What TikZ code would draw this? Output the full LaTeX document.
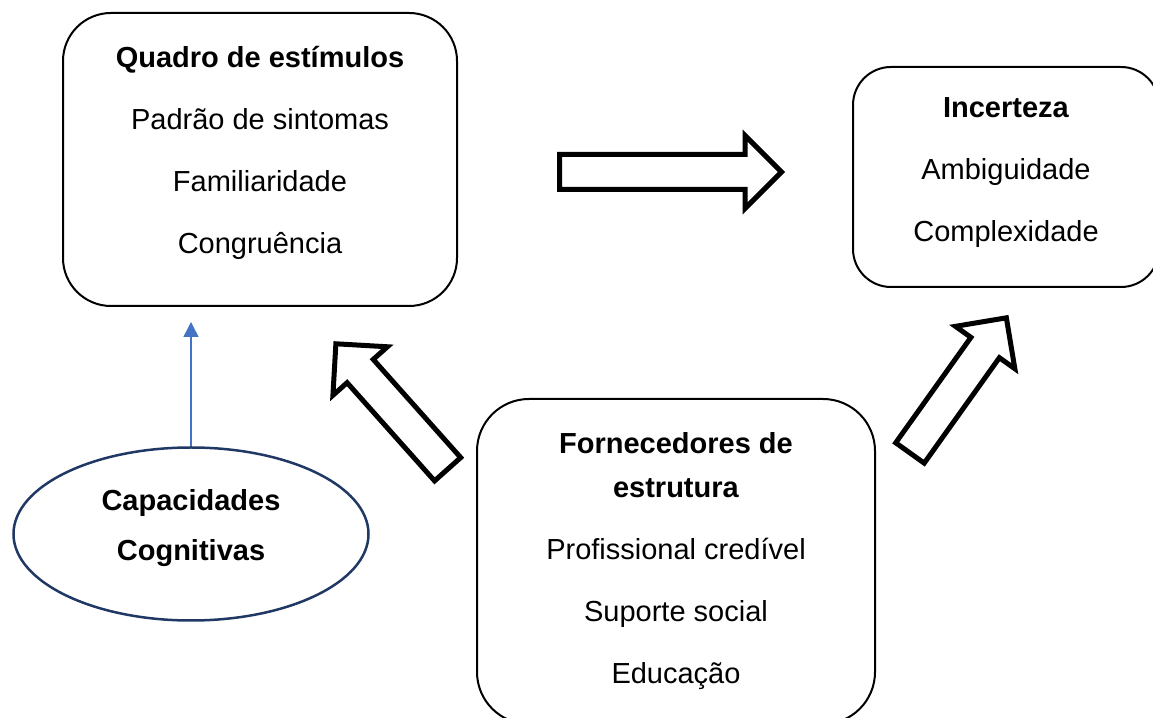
\documentclass[tikz,border=0pt]{standalone}
\usepackage{fontspec}
\setmainfont{Liberation Sans}
\usetikzlibrary{shapes.geometric, shapes.arrows, arrows.meta}
\definecolor{azul}{HTML}{4472C4}
\definecolor{marino}{HTML}{203864}
\newcommand{\relleno}[1]{\rule[-#1]{0pt}{#1}}

\begin{document}
\begin{tikzpicture}[x=1pt, y=1pt,
    caja/.style={draw, line width=2pt, rounded corners=#1, align=center,
        inner sep=0pt, font=\fontsize{29pt}{44pt}\selectfont},
    caja/.default=45pt,
    bloque/.style={single arrow, draw, fill=white, line width=5pt, anchor=tail,
        minimum height=#1, inner xsep=0pt, inner ysep=15pt,
        single arrow head extend=19pt, single arrow tip angle=90},
    flechaazul/.style={draw=azul, line width=1.5pt,
        -{Triangle[width=15pt, length=15pt]}}]
                                \useasboundingbox (0,0) rectangle (1153,717);

                                % cajas
                                \node [caja=48pt, minimum width=394pt, minimum height=293pt] (quadro) at (260,557.5)
                                    {\textbf{Quadro de estímulos}\\[18pt]Padrão de sintomas\\[18pt]Familiaridade\\[18pt]Congruência\relleno{20pt}};
                                \node [caja=38pt, minimum width=306pt, minimum height=220pt] (incerteza) at (1006,540)
                                    {\textbf{Incerteza}\\[18pt]Ambiguidade\\[18pt]Complexidade\relleno{14pt}};
                                \node [caja=52pt, minimum width=398pt, minimum height=325pt] (fornec) at (676,155.5)
                                    {\textbf{Fornecedores de}\\\textbf{estrutura}\\[18pt]Profissional credível\\[18pt]Suporte social\\[18pt]Educação};
                                \node [ellipse, draw=marino, line width=2.5pt, minimum width=355pt, minimum height=173pt,
                                    align=center, font=\fontsize{29pt}{44pt}\selectfont\bfseries] (cap) at (191,183)
                                    {Capacidades\\[6pt]Cognitivas\relleno{18pt}};

                                % flechas
                                \node [bloque=222pt] (f1) at (557,545) {};
                                \node [bloque=168pt, rotate=131.7] (f2) at (449.3,245.9) {};
                                \node [bloque=166pt, rotate=54.5] (f3) at (908.5,262) {};

                                \coordinate (punta) at (cap.north |- 0,395);
                                \path[flechaazul] (cap.north) -- (punta);
                            \end{tikzpicture}
\end{document}
